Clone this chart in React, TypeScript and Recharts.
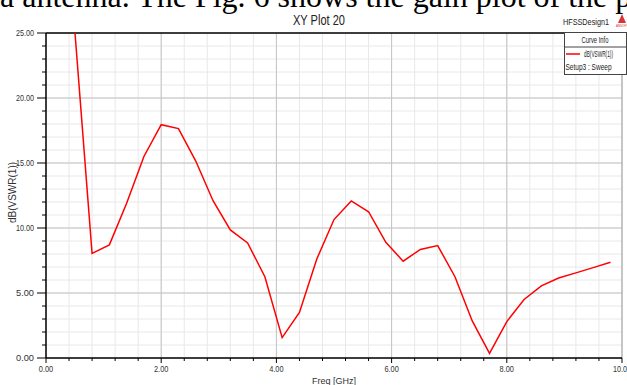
import React from 'react';
import {
  LineChart, Line, XAxis, YAxis, CartesianGrid, ReferenceLine, Legend,
} from 'recharts';

// sweep points (GHz) and dB(VSWR(1))
const FREQ_GHZ = [
  0.5, 0.8, 1.1, 1.4, 1.7, 2.0, 2.3, 2.6, 2.9, 3.2, 3.5, 3.8, 4.1, 4.4, 4.7, 5.0,
  5.3, 5.6, 5.9, 6.2, 6.5, 6.8, 7.1, 7.4, 7.7, 8.0, 8.3, 8.6, 8.9, 9.2, 9.5, 9.8,
];
const VSWR_DB = [
  25.2, 8.05, 8.7, 11.9, 15.5, 17.95, 17.65, 15.15, 12.1, 9.85, 8.85, 6.25, 1.57, 3.5, 7.6, 10.65,
  12.08, 11.25, 8.9, 7.45, 8.35, 8.65, 6.25, 2.85, 0.36, 2.8, 4.5, 5.55, 6.15, 6.55, 6.95, 7.36,
];

const X_MAJOR = [0, 2, 4, 6, 8, 10];
const X_MINOR = [0, 0.4, 0.8, 1.2, 1.6, 2, 2.4, 2.8, 3.2, 3.6, 4, 4.4, 4.8, 5.2, 5.6, 6, 6.4, 6.8, 7.2, 7.6, 8, 8.4, 8.8, 9.2, 9.6, 10];
const Y_MAJOR = [0, 5, 10, 15, 20, 25];
const Y_MINOR = [0, 1, 2, 3, 4, 5, 6, 7, 8, 9, 10, 11, 12, 13, 14, 15, 16, 17, 18, 19, 20, 21, 22, 23, 24, 25];

const data = FREQ_GHZ.map((f, i) => ({ f, db: VSWR_DB[i] }));

const NARROW = "'Liberation Sans Narrow', 'Arial Narrow', 'Liberation Sans', Arial, sans-serif";

const YTick = (props: any) => {
  const { x, y, payload } = props;
  const major = Y_MAJOR.includes(payload.value);
  return (
    <g>
      <line x1={x - (major ? 9 : 4)} x2={x} y1={y} y2={y} stroke="#000" strokeWidth={1} />
      {major && (
        <text x={x - 12} y={y} dy={3} textAnchor="end" fontSize={9} fill="#333" fontFamily={NARROW}
          textLength={18} lengthAdjust="spacingAndGlyphs">
          {payload.value.toFixed(2)}
        </text>
      )}
    </g>
  );
};

const XTick = (props: any) => {
  const { x, y, payload } = props;
  const major = X_MAJOR.includes(payload.value);
  const label = payload.value.toFixed(2);
  return (
    <g>
      <line x1={x} x2={x} y1={y} y2={y + (major ? 5 : 3)} stroke="#000" strokeWidth={1} />
      {major && (
        <text x={x} y={y + 14} textAnchor="middle" fontSize={9} fill="#333" fontFamily={NARROW}
          textLength={label.length * 3.6} lengthAdjust="spacingAndGlyphs">
          {label}
        </text>
      )}
    </g>
  );
};

const CurveInfo = () => (
  <svg width={63} height={44} style={{ display: 'block' }}>
    <rect x={0.5} y={0.5} width={62} height={42} fill="#fff" stroke="#444" />
    <line x1={0.5} x2={62.5} y1={15} y2={15} stroke="#444" />
    <text x={31} y={11} textAnchor="middle" fontSize={8.5} fill="#222" fontFamily={NARROW}
      textLength={27} lengthAdjust="spacingAndGlyphs">Curve Info</text>
    <line x1={2} x2={16} y1={22} y2={22} stroke="#f00" strokeWidth={1.5} />
    <text x={20} y={25} fontSize={8.5} fill="#222" fontFamily={NARROW}
      textLength={29} lengthAdjust="spacingAndGlyphs">dB(VSWR(1))</text>
    <text x={1.5} y={38} fontSize={8.5} fill="#222" fontFamily={NARROW}
      textLength={46} lengthAdjust="spacingAndGlyphs">Setup3 : Sweep</text>
  </svg>
);

export default function App() {
  return (
    <div style={{ position: 'absolute', left: 0, top: 0, width: 627, height: 385, overflow: 'hidden', background: '#fff' }}>
      <LineChart width={627} height={385} data={data} margin={{ top: 33, right: 5, bottom: 0, left: 0 }}>
        <CartesianGrid stroke="#e8e8e8" strokeWidth={1} />
        <XAxis
          dataKey="f" type="number" domain={[0, 10]} ticks={X_MINOR} interval={0}
          allowDataOverflow height={27} tickSize={0} tickMargin={0}
          axisLine={{ stroke: '#000', strokeWidth: 1.5 }} tickLine={false} tick={<XTick />}
          label={{ value: 'Freq [GHz]', position: 'insideBottom', offset: 1, fontSize: 9, fill: '#333', fontFamily: NARROW }}
        />
        <YAxis
          type="number" domain={[0, 25]} ticks={Y_MINOR} interval={0}
          allowDataOverflow width={46} tickSize={0} tickMargin={0}
          axisLine={{ stroke: '#000', strokeWidth: 1.5 }} tickLine={false} tick={<YTick />}
          label={{ value: 'dB(VSWR(1))', angle: -90, position: 'center', dx: -11, dy: -3, fontSize: 10, fill: '#333', fontFamily: NARROW }}
        />
        {[5, 10, 15, 20].map(v => <ReferenceLine key={'y' + v} y={v} stroke="#c4c4c4" />)}
        {[2, 4, 6, 8].map(v => <ReferenceLine key={'x' + v} x={v} stroke="#c4c4c4" />)}
        <ReferenceLine x={10} stroke="#999" />
        <ReferenceLine y={25} stroke="#000" strokeWidth={1.5} />
        <Line type="linear" dataKey="db" stroke="#ff0000" strokeWidth={1.5} dot={false} isAnimationActive={false} />
        <Legend
          layout="vertical" align="center" verticalAlign="middle"
          wrapperStyle={{ left: 564, top: 32, width: 63, height: 44 }}
          content={() => <CurveInfo />}
        />
      </LineChart>
      <svg width={627} height={385} style={{ position: 'absolute', left: 0, top: 0, pointerEvents: 'none' }}>
        <text x={0} y={7} fontSize={32} fontFamily="'Liberation Serif', 'Times New Roman', serif" fill="#000">
          a antenna. The Fig. 6 shows the gain plot of the p
        </text>
        <text x={293} y={25} fontSize={14} fontFamily={NARROW} fill="#222"
          textLength={52} lengthAdjust="spacingAndGlyphs">XY Plot 20</text>
        <text x={563} y={25} fontSize={9.5} fontFamily={NARROW} fill="#222"
          textLength={46} lengthAdjust="spacingAndGlyphs">HFSSDesign1</text>
        <polygon points="622,14 618,23 626,23" fill="#d33" />
        <text x={622} y={27} textAnchor="middle" fontSize={3} fill="#c33" fontFamily={NARROW}>ANSOFT</text>
      </svg>
    </div>
  );
}
